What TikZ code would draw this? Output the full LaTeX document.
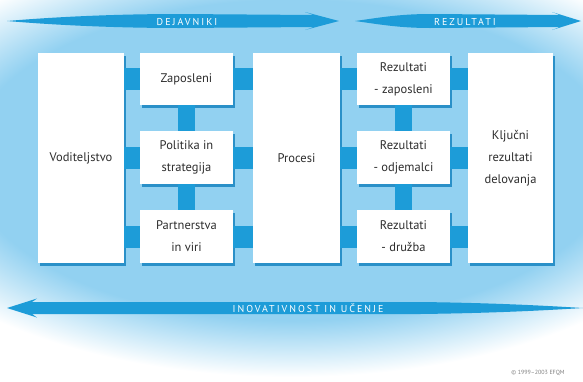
\documentclass[tikz,border=0pt]{standalone}
\usepackage{fontspec}
\setmainfont{PT Sans}
\newfontfamily\labfont[LetterSpace=20]{PT Sans}
\usetikzlibrary{shadows}
\definecolor{bgblue}{HTML}{92D1F1}
\definecolor{arblue}{HTML}{1D9CD8}
\definecolor{shblue}{HTML}{2A90C8}
\definecolor{txtgray}{HTML}{2E2E2E}
\pgfdeclareradialshading{vign}{\pgfpoint{0bp}{0bp}}{color(0bp)=(bgblue); color(34bp)=(bgblue); color(46bp)=(white); color(80bp)=(white)}
\begin{document}
\begin{tikzpicture}[x=1pt,y=-1pt,
  box/.style={fill=white, inner sep=0pt, outer sep=0pt, align=center, text=txtgray,
    font=\fontsize{12.5}{22}\selectfont,
    general shadow={fill=shblue, shadow xshift=1.5pt, shadow yshift=-3pt}},
  hconn/.style={draw=arblue, line width=22pt},
  vconn/.style={draw=arblue, line width=17pt},
  arrowshape/.style={fill=arblue},
  lab/.style={text=white, font=\labfont\fontsize{10}{12}\selectfont, inner sep=0pt}]
\useasboundingbox (0,0) rectangle (583,381);
\fill[white] (0,0) rectangle (583,381);
\begin{scope}
  \clip (0,0) rectangle (583,381);
  \pgftransformshift{\pgfpoint{291.5pt}{-160pt}}
  \pgftransformxscale{9.5}
  \pgftransformyscale{4.7}
  \pgflowlevelsynccm
  \pgfuseshading{vign}
\end{scope}

% arrows
\fill[arrowshape] (7,21) .. controls (60,16.5) and (120,14) .. (180,14) -- (314,15) -- (305,12) -- (339,21) -- (305,30) -- (314,27) -- (180,28) .. controls (120,28) and (60,25.5) .. (7,21) -- cycle;
\fill[arrowshape] (355,21) .. controls (380,17.5) and (400,14) .. (430,14) -- (560,15) -- (552,12) -- (581,21) -- (552,30) -- (560,27) -- (430,28) .. controls (400,28) and (380,24.5) .. (355,21) -- cycle;
\fill[arrowshape] (7,308) -- (37,298.5) -- (32,302) -- (420,302) .. controls (500,303) and (550,306) .. (583,308) .. controls (550,310) and (500,313) .. (420,314) -- (32,314) -- (37,317.5) -- cycle;

\node[lab] (dej) at (187,21.5) {DEJAVNIKI};
\node[lab] (rez) at (465,21.5) {REZULTATI};
\node[lab] (ino) at (308,308.5) {INOVATIVNOST IN UČENJE};

% boxes
\node[box, minimum width=86pt, minimum height=210pt] (vod) at (81,158) {Voditeljstvo};
\node[box, minimum width=93pt, minimum height=52pt] (zap) at (186.5,79) {Zaposleni};
\node[box, minimum width=93pt, minimum height=53pt] (pol) at (186.5,157.5) {Politika in\\strategija};
\node[box, minimum width=93pt, minimum height=53pt] (par) at (186.5,236.5) {Partnerstva\\in viri};
\node[box, minimum width=87pt, minimum height=210pt] (pro) at (296.5,158) {Procesi};
\node[box, minimum width=93pt, minimum height=52pt] (rz) at (403.5,79) {Rezultati\\- zaposleni};
\node[box, minimum width=93pt, minimum height=53pt] (ro) at (403.5,157.5) {Rezultati\\- odjemalci};
\node[box, minimum width=93pt, minimum height=53pt] (rd) at (403.5,236.5) {Rezultati\\- družba};
\node[box, minimum width=85pt, minimum height=210pt] (klj) at (510.5,158) {Ključni\\rezultati\\delovanja};

% connectors
\foreach \b in {zap,pol,par} {
  \draw[hconn] (vod.east |- \b.center) -- (\b.west);
  \draw[hconn] (\b.east) -- (pro.west |- \b.center);
}
\foreach \b in {rz,ro,rd} {
  \draw[hconn] (pro.east |- \b.center) -- (\b.west);
  \draw[hconn] (\b.east) -- (klj.west |- \b.center);
}
\draw[vconn] (zap.south) -- (pol.north);
\draw[vconn] (pol.south) -- (par.north);
\draw[vconn] (rz.south) -- (ro.north);
\draw[vconn] (ro.south) -- (rd.north);

\node[text=gray, font=\fontsize{6}{7}\selectfont, inner sep=0pt] (copy) at (538,373) {© 1999–2003 EFQM};
\end{tikzpicture}
\end{document}
